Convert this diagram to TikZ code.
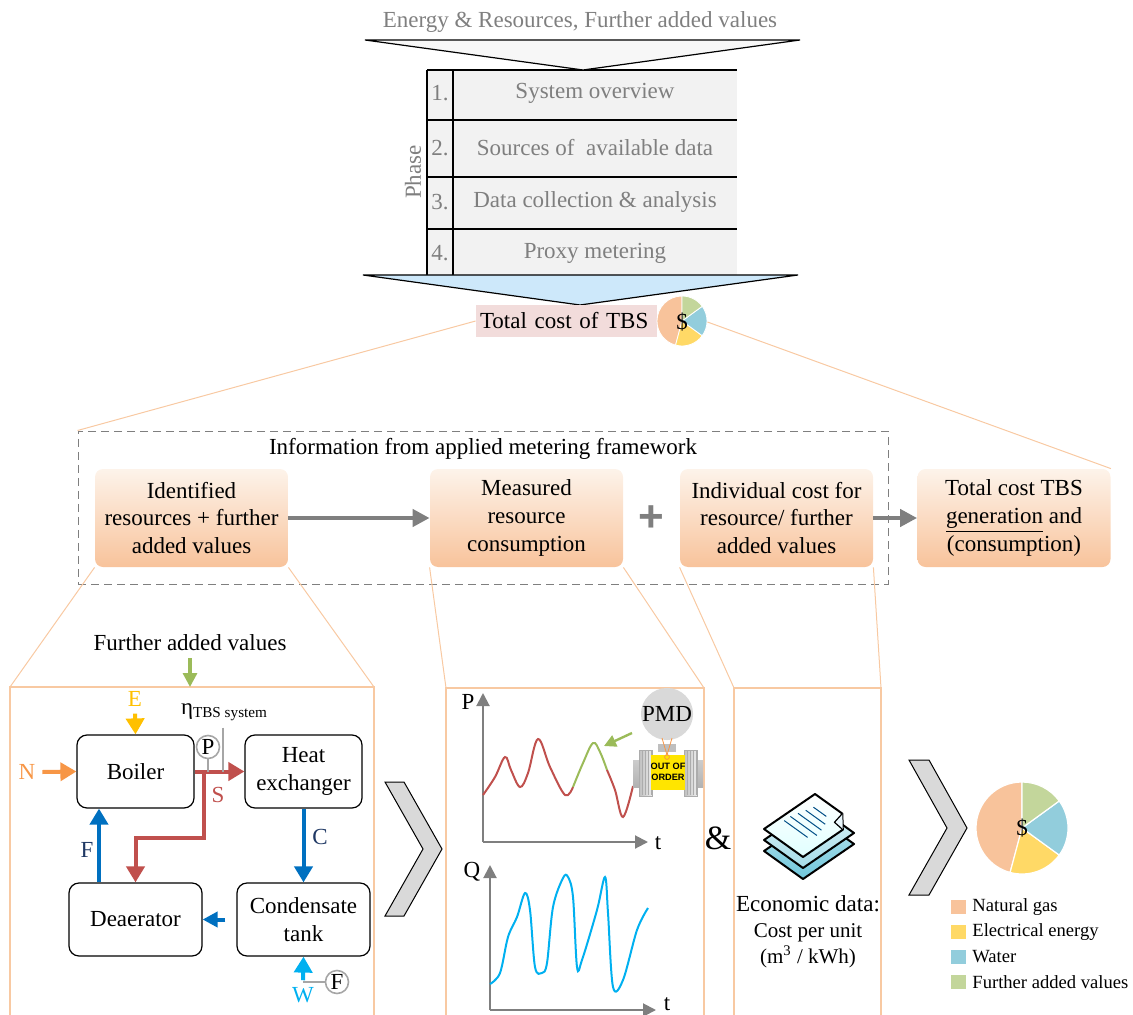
\documentclass[tikz,border=0pt]{standalone}
\usepackage{fontspec}
\setmainfont{Liberation Serif}
\newfontfamily\sansfam{Liberation Sans}
\usetikzlibrary{arrows.meta,positioning,calc}

\definecolor{txtgray}{HTML}{7F7F7F}
\definecolor{tblfill}{HTML}{F2F2F2}
\definecolor{funnelblue}{HTML}{CDE8FA}
\definecolor{pinkfill}{HTML}{F2DCDB}
\definecolor{zoomcol}{HTML}{F8C9A2}
\definecolor{boxtop}{HTML}{FDF3EA}
\definecolor{boxbot}{HTML}{F8C39B}
\definecolor{gascol}{HTML}{F8C39B}
\definecolor{eleccol}{HTML}{FFD966}
\definecolor{watercol}{HTML}{92CDDC}
\definecolor{addcol}{HTML}{C3D69B}
\definecolor{ncol}{HTML}{F79646}
\definecolor{ecol}{HTML}{FFC000}
\definecolor{scol}{HTML}{C0504D}
\definecolor{fwcol}{HTML}{0070C0}
\definecolor{navy}{HTML}{1F3864}
\definecolor{wcol}{HTML}{00B0F0}
\definecolor{favcol}{HTML}{9BBB59}
\definecolor{chevgray}{HTML}{D9D9D9}
\definecolor{meter}{HTML}{A6A6A6}
\definecolor{tagyellow}{HTML}{FFE500}

\tikzset{
  costbox/.style={rounded corners=4pt, top color=boxtop, bottom color=boxbot,
    minimum width=96.5pt, minimum height=49pt, align=center, inner sep=1pt},
  procbox/.style={draw, rounded corners=5pt, line width=0.6pt,
    minimum width=58.5pt, minimum height=36.5pt, align=center},
  flow/.style={line width=2pt, -{Triangle[width=9pt,length=8pt]}},
  gauge/.style={circle, draw=meter, line width=0.8pt, minimum size=11.5pt, inner sep=0pt},
  axis/.style={draw=txtgray, line width=1pt, -{Triangle[width=6.5pt,length=6.5pt]}},
  bigarrow/.style={draw=txtgray, line width=2.2pt, -{Triangle[width=8.5pt,length=8.5pt]}},
  zoomln/.style={draw=zoomcol, line width=0.5pt},
  panel/.style={draw=zoomcol, line width=1pt},
  chevron/.style={fill=chevgray, draw=black, line width=0.5pt},
}

\begin{document}
\begin{tikzpicture}[x=0.5pt, y=-0.5pt, font=\fontsize{11.5}{13.8}\selectfont]
\useasboundingbox (0,0) rectangle (1133,1015);

% phases of the framework
\node[text=txtgray] (inputs) at (580,22) {Energy \& Resources, Further added values};
\fill[tblfill] (427,70) rectangle (737,275);
\foreach \y in {70,120,177,229}
    \draw[line width=0.6pt] (427,\y) -- (737,\y);
\draw[line width=0.6pt] (427,70) -- (427,275);
\draw[line width=1.1pt] (453,70) -- (453,177);
\draw[line width=0.6pt] (453,177) -- (453,275);
\foreach \n/\y/\txt in {
    1/93/System overview,
    2/148/Sources of~ available data,
    3/202/Data collection \& analysis,
    4/253/Proxy metering}
{
    \node[text=txtgray] (num\n) at (440,\y) {\n.};
    \node[text=txtgray] (row\n) at (595,\y) {\txt};
}
\node[text=txtgray, rotate=90] (phase) at (413,172) {Phase};
\filldraw[fill=gray!6, draw=black, line width=0.6pt] (365,40) -- (800,40) -- (583,70) -- cycle;
\filldraw[fill=funnelblue, draw=black, line width=0.6pt] (363,275) -- (798,275) -- (580,305) -- cycle;

% total cost with small pie
\node[fill=pinkfill, text width=86.5pt, inner xsep=2pt, minimum height=16pt, inner ysep=0pt, align=left] (tot) at (566.5,321) {Total cost of TBS};
\begin{scope}[shift={(682,321)}, x=1pt, y=1pt]
\foreach \a/\b/\c in {90/255/gascol, 255/324/eleccol, 324/396/watercol, 396/450/addcol}
    \fill[\c, draw=white, line width=0.4pt] (0,0) -- (\a:12.5) arc[start angle=\a, end angle=\b, radius=12.5] -- cycle;
\end{scope}
\node[circle, minimum size=25pt, inner sep=0pt] (spie) at (682,322) {\$};

% metering framework
\node[draw=txtgray, dashed, dash pattern=on 4pt off 2.5pt, line width=0.5pt,
      minimum width=405pt, minimum height=76.5pt, inner sep=0pt] (frame) at (483,507.5) {};
\node (frametitle) at (483,449) {Information from applied metering framework};
\node[costbox] (cost1) at (191.5,518) {Identified\\resources + further\\added values};
\node[costbox] (cost2) at (526.5,518) {Measured\\resource\\consumption};
\node[costbox] (cost3) at (776.5,518) {Individual cost for\\resource/ further\\added values};
\node[costbox] (cost4) at (1014,518) {Total cost TBS\\\underline{generation} and\\(consumption)};
\node[text=txtgray, font=\sansfam\bfseries\fontsize{22}{22}\selectfont] (plus) at (651,519) {+};
\draw[bigarrow] (cost1.east) -- (cost2.west);
\draw[bigarrow] (cost3.east) -- (cost4.west);
\draw[zoomln] (tot.west) -- (frame.north west);
\draw[zoomln] (spie.east) -- (cost4.north east);

% detail panels
\coordinate (p1nw) at (10,687);
\coordinate (p1ne) at (374,687);
\coordinate (p2nw) at (446,688);
\coordinate (p2ne) at (704,688);
\coordinate (p3nw) at (734,688);
\coordinate (p3ne) at (881,688);
\draw[panel] (10,1030) -- (p1nw) -- (p1ne) -- (374,1030);
\draw[panel] (446,1030) -- (p2nw) -- (p2ne) -- (704,1030);
\draw[panel] (734,1030) -- (p3nw) -- (p3ne) -- (881,1030);
\draw[zoomln] (cost1.south west) -- (p1nw);
\draw[zoomln] (cost1.south east) -- (p1ne);
\draw[zoomln] (cost2.south west) -- (p2nw);
\draw[zoomln] (cost2.south east) -- (p2ne);
\draw[zoomln] (cost3.south west) -- (p3nw);
\draw[zoomln] (cost3.south east) -- (p3ne);

% TBS process
\node (fav) at (190,643) {Further added values};
\draw[favcol, line width=1.6pt, -{Triangle[width=7pt,length=7pt]}] (fav.south) -- (fav.south |- p1nw);
\node[procbox] (boiler) at (135.5,771.5) {Boiler};
\node[procbox] (heatx) at (303.5,771.5) {Heat\\exchanger};
\node[procbox, minimum width=66.5pt] (deaer) at (135.5,919.5) {Deaerator};
\node[procbox, minimum width=66.5pt] (ctank) at (303.5,919.5) {Condensate\\tank};

\node[text=ecol] (lblE) at (135,699) {E};
\node[text=ncol] (lblN) at (27,772) {N};
\node[text=scol] (lblS) at (218,795) {S};
\node[text=navy] (lblC) at (320,837) {C};
\node[text=navy] (lblF) at (87,850) {F};
\node[text=wcol] (lblW) at (303,995) {W};
\draw[flow, ecol] (lblE.south) -- (boiler.north);
\draw[flow, ncol] (lblN.east) -- (boiler.west);
\draw[flow, scol] (boiler.east) -- (heatx.west);
\coordinate (sbr) at (204,772);
\draw[flow, scol] (sbr) -- (204,838) -| (deaer.north);
\draw[flow, fwcol] (heatx.south) -- (ctank.north);
\coordinate (fx) at (99,0);
\draw[flow, fwcol] (fx |- deaer.north) -- (fx |- boiler.south);
\draw[flow, fwcol, -{Triangle[width=7.5pt,length=7.5pt]}] ([xshift=-5.5pt]ctank.west) -- (deaer.east);
\draw[flow, wcol] (lblW.north) -- (ctank.south);

\node[gauge] (pg) at (208,747) {P};
\draw[meter, line width=0.6pt] (pg.south) -- (pg.south |- boiler.east);
\node (eta) at (224,712) {η\raisebox{-1.5pt}{\fontsize{7.6}{8}\selectfont TBS system}};
\draw[meter, line width=0.6pt] ([xshift=-0.5pt]eta.south) -- ([xshift=-0.5pt]eta.south |- boiler.east);
\node[gauge] (fg) at (337,982) {F};
\draw[meter, line width=0.6pt] (fg.west) -- (fg.west -| lblW);

\filldraw[chevron] (385,782) -- (404,782) -- (442,849) -- (404,916) -- (385,916) -- (423,849) -- cycle;

% power and flow over time
\coordinate (porig) at (483,842);
\node (lblP) at (468,702) {P};
\node (lblPt) at (658,843) {t};
\draw[axis] (porig) -- (483,693);
\draw[axis] (porig) -- (648,842);
\draw[scol, line width=1pt] plot[smooth, tension=0.6] coordinates {
    (483,795) (495,777) (505,757) (511,770) (520,787) (528,773) (538,739)
    (550,767) (565,795) (573,787)};
\draw[favcol, line width=1pt] plot[smooth, tension=0.6] coordinates {
    (573,787) (583,763) (593,743) (600,752) (607,770)};
\draw[scol, line width=1pt] plot[smooth, tension=0.6] coordinates {
    (607,770) (615,790) (623,817) (633,786)};

\coordinate (qorig) at (490,1010);
\node (lblQ) at (472,872) {Q};
\node (lblQt) at (667,1004) {t};
\draw[axis] (qorig) -- (490,865);
\draw[axis] (qorig) -- (656,1010);
\draw[wcol, line width=1pt] plot[smooth, tension=0.55] coordinates {
    (490,984) (500,973) (508,937) (517,917) (525,893) (530,910) (535,967)
    (542,973) (547,963) (553,907) (563,878) (568,877) (573,897) (577,967)
    (582,960) (597,910) (605,877) (608,913) (613,987) (623,980) (637,930) (648,908)};

% broken meter
\node[circle, fill=chevgray, minimum size=24pt, inner sep=0pt] (pmd) at (667,714) {PMD};
\coordinate (peak) at (604,746);
\coordinate (gtail) at (632,733);
\draw[favcol, line width=1.2pt, -{Triangle[width=6pt,length=6pt]}] (gtail) -- (peak);
\fill[gray!50] (658,744) rectangle (676,752);
\shade[top color=gray!40, middle color=gray!8, bottom color=gray!60] (633,760) rectangle (703,787);
\foreach \x in {639,684}
{
    \shade[left color=gray!50, right color=gray!15, draw=gray!65, line width=0.3pt] (\x,750) rectangle (\x+13,796);
    \foreach \r in {3,6,9,12}
        \draw[gray!65, line width=0.3pt] (\x+\r,751) -- (\x+\r,795);
}
\node[fill=tagyellow, minimum width=15pt, minimum height=17.5pt, inner sep=0pt, align=center,
      font=\sansfam\bfseries\fontsize{4.6}{5.4}\selectfont] (tag) at (668,772) {OUT OF\\ORDER};
\draw[ncol, line width=0.4pt] (662,738) -- (667,755) -- (672,738);
\draw[ncol, line width=0.4pt] (667,757) circle (1.2pt);

\node (amp) at (718,838) {\fontsize{17}{17}\selectfont\&};

% economic data
\foreach \dy/\ct/\cb in {22/B9E6F0/70C6DB, 11/DDF3F8/A6DCE8}
{
    \begin{scope}[shift={(764,829+\dy)}, x={(25.5pt,17.5pt)}, y={(19.5pt,-14pt)}]
    \definecolor{sheettop}{HTML}{\ct}
    \definecolor{sheetbot}{HTML}{\cb}
    \shade[top color=sheettop, bottom color=sheetbot, draw=black, line width=1pt, line join=round]
        (0,0) -- (1,0) -- (1,1) -- (0,1) -- cycle;
    \end{scope}
}
\begin{scope}[shift={(764,829)}, x={(25.5pt,17.5pt)}, y={(19.5pt,-14pt)}]
\shade[top color=white, bottom color=cyan!12, draw=black, line width=1pt, line join=round]
    (0,0) -- (1,0) -- (1,0.7) -- (0.78,1) -- (0,1) -- cycle;
\filldraw[fill=cyan!8, draw=black, line width=0.6pt, line join=round] (1,0.7) -- (0.8,0.76) -- (0.78,1);
\foreach \u/\va/\vb in {0.8/0.22/0.55, 0.68/0.18/0.68, 0.56/0.14/0.74, 0.44/0.1/0.78, 0.32/0.1/0.7}
    \draw[fwcol!70!black, line width=0.5pt] (\u,\va) -- (\u,\vb);
\end{scope}
\node[align=center, font=\fontsize{10.5}{13}\selectfont] (econ) at (808,932)
    {{\fontsize{11.5}{13}\selectfont Economic data:}\\Cost per unit\\(m\textsuperscript{3} / kWh)};

% resulting cost split
\filldraw[chevron] (909,760) -- (929,760) -- (967,828) -- (929,895) -- (909,895) -- (947,828) -- cycle;
\begin{scope}[shift={(1022,828)}, x=1pt, y=1pt]
\foreach \a/\b/\c in {90/255/gascol, 255/324/eleccol, 324/396/watercol, 396/450/addcol}
    \fill[\c, draw=white, line width=0.6pt] (0,0) -- (\a:23) arc[start angle=\a, end angle=\b, radius=23] -- cycle;
\end{scope}
\node[circle, minimum size=46pt, inner sep=0pt] (bpie) at (1022,828) {\$};
\foreach \n/\y/\c/\txt in {1/907/gascol/Natural gas, 2/932/eleccol/Electrical energy,
                           3/957/watercol/Water, 4/982/addcol/Further added values}
{
    \fill[\c] (951,\y-7) rectangle (966,\y+7);
    \node[anchor=west, inner sep=0pt, font=\fontsize{9.3}{10}\selectfont] (leg\n) at (972,\y) {\txt};
}

\end{tikzpicture}
\end{document}
